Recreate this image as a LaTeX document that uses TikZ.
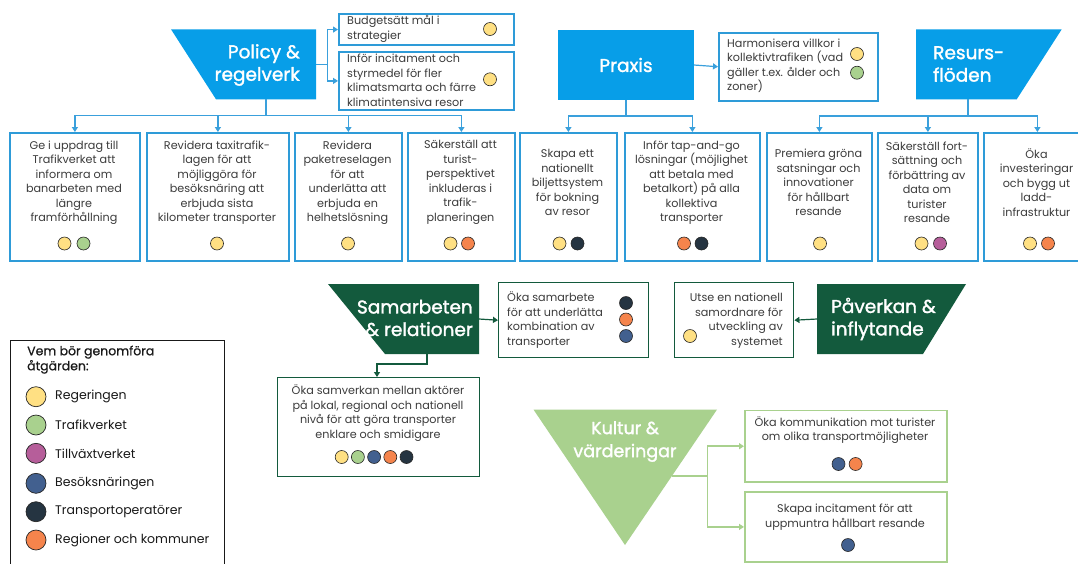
\documentclass[tikz,border=0pt]{standalone}
\usepackage{fontspec}
\setmainfont{Poppins}
\newfontfamily\headfont{Poppins}[FakeBold=1.6]
\newfontfamily\legheadfont{Poppins}[FakeBold=0.6]
\usetikzlibrary{arrows.meta}

\definecolor{pblue}{HTML}{079EE8}
\definecolor{bborder}{HTML}{2E9BD8}
\definecolor{bconn}{HTML}{3AA0DC}
\definecolor{dgreen}{HTML}{135A3D}
\definecolor{lgreen}{HTML}{A9D18E}
\definecolor{txtgray}{HTML}{3C3C3C}
\definecolor{cYel}{HTML}{FFE083}
\definecolor{cGrn}{HTML}{A9D18E}
\definecolor{cPur}{HTML}{B65E9A}
\definecolor{cBlu}{HTML}{42608F}
\definecolor{cDrk}{HTML}{253441}
\definecolor{cOra}{HTML}{F5844C}

\begin{document}
\begin{tikzpicture}[x=1pt,y=-1pt,
  bbox/.style={draw=bborder, line width=1.8pt, inner sep=0, anchor=north west},
  dgbox/.style={draw=dgreen, line width=1.4pt, inner sep=0, anchor=north west},
  lgbox/.style={draw=lgreen, line width=1.8pt, inner sep=0, anchor=north west},
  btxt/.style={inner sep=0, text=txtgray, font=\fontsize{11.2}{14.5}\selectfont},
  head/.style={inner sep=0, text=white, font=\headfont\fontsize{18.5}{22.5}\selectfont},
  dot/.style={circle, draw=black!85, line width=0.6pt, minimum size=13pt, inner sep=0},
  ldot/.style={circle, draw=black!85, line width=0.7pt, minimum size=20pt, inner sep=0},
  ltxt/.style={inner sep=0, anchor=west, text=black!90, font=\fontsize{12.5}{15}\selectfont},
  bconnector/.style={draw=bconn, line width=1.2pt, -{Triangle[width=6pt,length=5pt]}},
  gconnector/.style={draw=dgreen, line width=1.2pt, -{Triangle[width=6pt,length=5pt]}},
  lconnector/.style={draw=lgreen, line width=1.5pt, -{Triangle[width=6pt,length=5pt]}}
]
\useasboundingbox (0,0) rectangle (1078,563);
\fill[white] (0,0) rectangle (1078,563);

% ---------- Policy & regelverk ----------
\fill[pblue] (171,29.3) -- (316,29.3) -- (316,99.3) -- (216,99.3) -- cycle;
\node[head, align=right, anchor=east] (policy) at (300,65) {Policy \&\\regelverk};
\coordinate (policyR) at (316,64.3);
\coordinate (policyB) at (266,99.3);

\node[bbox, minimum width=175, minimum height=30.7] (bud) at (338,13.3) {};
\node[btxt, align=left, anchor=west] (budt) at (347,28.7) {Budgetsätt mål i\\strategier};
\node[dot, fill=cYel] (budd) at (490,29) {};

\node[bbox, minimum width=175, minimum height=58] (inf) at (338,51) {};
\node[btxt, align=left, anchor=west] (inft) at (347,80.5) {Inför incitament och\\styrmedel för fler\\klimatsmarta och färre\\klimatintensiva resor};
\node[dot, fill=cYel] (infd) at (490,79.3) {};

\draw[bconnector] (policyR) -- (327.5,64.3) |- (bud.west);
\draw[bconnector] (policyR) -- (327.5,64.3) |- (inf.west);

% ---------- Praxis ----------
\fill[pblue] (558,30) rectangle (694,100);
\node[head] (praxis) at (626,65) {Praxis};
\coordinate (praxisR) at (694,65);
\coordinate (praxisB) at (626,100);

\node[bbox, minimum width=158.7, minimum height=68.3] (harm) at (718,31.7) {};
\node[btxt, align=left, anchor=west] (harmt) at (727,66) {Harmonisera villkor i\\kollektivtrafiken (vad\\gäller t.ex. ålder och\\zoner)};
\node[dot, fill=cYel] (harmd1) at (857,54) {};
\node[dot, fill=cGrn] (harmd2) at (857,72.7) {};
\draw[bconnector] (praxisR) -- (harm.west);

% ---------- Resursflöden ----------
\fill[pblue] (916,29.3) -- (1061.7,29.3) -- (1016.7,99.3) -- (916,99.3) -- cycle;
\node[head, align=left, anchor=west] (resurs) at (933,64) {Resurs-\\flöden};
\coordinate (resursB) at (968,99.3);

% ---------- Row of action boxes ----------
\node[bbox, minimum width=130, minimum height=128] (b1) at (9,132) {};
\node[bbox, minimum width=142, minimum height=128] (b2) at (146,132) {};
\node[bbox, minimum width=107, minimum height=128] (b3) at (294,132) {};
\node[bbox, minimum width=107, minimum height=128] (b4) at (407,132) {};
\node[bbox, minimum width=97,  minimum height=128] (b5) at (519,132) {};
\node[bbox, minimum width=135, minimum height=128] (b6) at (624,132) {};
\node[bbox, minimum width=105, minimum height=128] (b7) at (766,132) {};
\node[bbox, minimum width=100, minimum height=128] (b8) at (877,132) {};
\node[bbox, minimum width=107, minimum height=128] (b9) at (983,132) {};

\node[btxt, align=center] (t1) at (74,182.5) {Ge i uppdrag till\\Trafikverket att\\informera om\\banarbeten med\\längre\\framförhållning};
\node[btxt, align=center] (t2) at (217,182.5) {Revidera taxitrafik-\\lagen för att\\möjliggöra för\\besöksnäring att\\erbjuda sista\\kilometer transporter};
\node[btxt, align=center] (t3) at (347.5,182.5) {Revidera\\paketreselagen\\för att\\underlätta att\\erbjuda en\\helhetslösning};
\node[btxt, align=center] (t4) at (460.5,182.5) {Säkerställ att\\turist-\\perspektivet\\inkluderas i\\trafik-\\planeringen};
\node[btxt, align=center] (t5) at (567.5,182.5) {Skapa ett\\nationellt\\biljettsystem\\för bokning\\av resor};
\node[btxt, align=center] (t6) at (691.5,182.5) {Inför tap-and-go\\lösningar (möjlighet\\att betala med\\betalkort) på alla\\kollektiva\\transporter};
\node[btxt, align=center] (t7) at (818.5,182.5) {Premiera gröna\\satsningar och\\innovationer\\för hållbart\\resande};
\node[btxt, align=center] (t8) at (927,182.5) {Säkerställ fort-\\sättning och\\förbättring av\\data om\\turister\\resande};
\node[btxt, align=center] (t9) at (1036.5,182.5) {Öka\\investeringar\\och bygg ut\\ladd-\\infrastruktur};

\node[dot, fill=cYel] (d1a) at (64.5,243.5) {};
\node[dot, fill=cGrn] (d1b) at (83.5,243.5) {};
\node[dot, fill=cYel] (d2a) at (217,243.5) {};
\node[dot, fill=cYel] (d3a) at (348,243.5) {};
\node[dot, fill=cYel] (d4a) at (450.5,243.5) {};
\node[dot, fill=cOra] (d4b) at (468,243.5) {};
\node[dot, fill=cYel] (d5a) at (559.5,243.5) {};
\node[dot, fill=cDrk] (d5b) at (577.5,243.5) {};
\node[dot, fill=cOra] (d6a) at (684,243.5) {};
\node[dot, fill=cDrk] (d6b) at (701.5,243.5) {};
\node[dot, fill=cYel] (d7a) at (820,243.5) {};
\node[dot, fill=cYel] (d8a) at (921.5,243.5) {};
\node[dot, fill=cPur] (d8b) at (940,243.5) {};
\node[dot, fill=cYel] (d9a) at (1030,243.5) {};
\node[dot, fill=cOra] (d9b) at (1048,243.5) {};

% connectors from the three blue headings
\foreach \b in {b1,b2,b3,b4}
  \draw[bconnector] (policyB) -- (266,115.5) -| (\b.north);
\foreach \b in {b5,b6}
  \draw[bconnector] (praxisB) -- (626,116) -| (\b.north);
\foreach \b in {b7,b8,b9}
  \draw[bconnector] (resursB) -- (968,116) -| (\b.north);

% ---------- Samarbeten & relationer ----------
\fill[dgreen] (328,284) -- (479,284) -- (479,354) -- (385,354) -- cycle;
\node[head, align=right, anchor=east] (samarb) at (473,318) {Samarbeten\\\& relationer};
\coordinate (samarbR) at (479,319);
\coordinate (samarbB) at (427,354);

\node[dgbox, minimum width=150, minimum height=75] (oks) at (498,282) {};
\node[btxt, align=left, anchor=west] (okst) at (507,320) {Öka samarbete\\för att underlätta\\kombination av\\transporter};
\node[dot, fill=cDrk] (oksd1) at (626,303) {};
\node[dot, fill=cOra] (oksd2) at (626,319.5) {};
\node[dot, fill=cBlu] (oksd3) at (626,336) {};
\draw[gconnector] (samarbR) -- (oks.west);

\node[dgbox, minimum width=202, minimum height=99] (okv) at (277,377) {};
\node[btxt, align=center] (okvt) at (378,413) {Öka samverkan mellan aktörer\\på lokal, regional och nationell\\nivå för att göra transporter\\enklare och smidigare};
\node[dot, fill=cYel] (okvd1) at (341.7,457) {};
\node[dot, fill=cGrn] (okvd2) at (357.9,457) {};
\node[dot, fill=cBlu] (okvd3) at (374.1,457) {};
\node[dot, fill=cOra] (okvd4) at (390.3,457) {};
\node[dot, fill=cDrk] (okvd5) at (406.5,457) {};
\draw[gconnector] (samarbB) -- (427,364) -| (okv.north -| 377,0);

% ---------- Påverkan & inflytande ----------
\fill[dgreen] (817,284) -- (966,284) -- (923,354) -- (817,354) -- cycle;
\node[head, align=left, anchor=west] (paverk) at (831,319) {Påverkan \&\\inflytande};
\coordinate (paverkL) at (817,319);

\node[dgbox, minimum width=119, minimum height=75] (utse) at (674,282) {};
\node[btxt, align=right, anchor=east] (utset) at (783,320.5) {Utse en nationell\\samordnare för\\utveckling av\\systemet};
\node[dot, fill=cYel] (utsed) at (690,336) {};
\draw[gconnector] (paverkL) -- (utse.east);

% ---------- Kultur & värderingar ----------
\fill[lgreen] (533.5,409.6) -- (717,409.6) -- (625,545) -- cycle;
\node[head, align=center, font=\headfont\fontsize{17.5}{23}\selectfont] (kultur) at (625,441.5) {Kultur \&\\värderingar};
\coordinate (kulturR) at (672,476);

\node[lgbox, minimum width=202, minimum height=71.4] (kom) at (744,409.6) {};
\node[btxt, align=center] (komt) at (845,430) {Öka kommunikation mot turister\\om olika transportmöjligheter};
\node[dot, fill=cBlu] (komd1) at (838.5,464) {};
\node[dot, fill=cOra] (komd2) at (855.6,464) {};

\node[lgbox, minimum width=202, minimum height=70] (inc) at (744,491) {};
\node[btxt, align=center] (inct) at (845,517) {Skapa incitament för att\\uppmuntra hållbart resande};
\node[dot, fill=cBlu] (incd) at (848,545) {};

\draw[lconnector] (kulturR) -- (707.5,476) |- (kom.west);
\draw[lconnector] (kulturR) -- (707.5,476) |- (inc.west);

% ---------- Legend ----------
\node[draw=black!90, line width=1.3pt, inner sep=0, anchor=north west, minimum width=214, minimum height=232] (legend) at (10,340) {};
\node[ltxt, anchor=north west, align=left, font=\legheadfont\fontsize{12.5}{15}\selectfont] (legt) at (27,345.5) {Vem bör genomföra\\åtgärden:};
\node[ldot, fill=cYel] (l1) at (36,396.7) {};
\node[ldot, fill=cGrn] (l2) at (36,425) {};
\node[ldot, fill=cPur] (l3) at (36,453.3) {};
\node[ldot, fill=cBlu] (l4) at (36,483.3) {};
\node[ldot, fill=cDrk] (l5) at (36,511.7) {};
\node[ldot, fill=cOra] (l6) at (36,540) {};
\node[ltxt] (l1t) at (55,396.7) {Regeringen};
\node[ltxt] (l2t) at (55,425) {Trafikverket};
\node[ltxt] (l3t) at (55,453.3) {Tillväxtverket};
\node[ltxt] (l4t) at (55,483.3) {Besöksnäringen};
\node[ltxt] (l5t) at (55,511.7) {Transportoperatörer};
\node[ltxt] (l6t) at (55,540) {Regioner och kommuner};
\end{tikzpicture}
\end{document}
